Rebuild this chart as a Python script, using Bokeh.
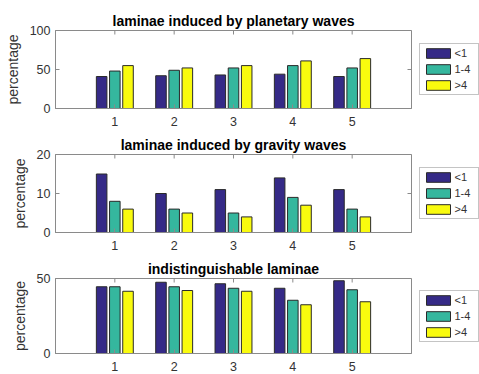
import math
from bokeh.plotting import figure
from bokeh.models import (Range1d, FixedTicker, Legend, LegendItem,
                          ColumnDataSource)
from bokeh.layouts import column, row
from bokeh.transform import dodge
from bokeh.embed import file_html
from bokeh.resources import INLINE

categories = [1, 2, 3, 4, 5]
series_names = ["<1", "1-4", ">4"]
colors = ["#352A87", "#35B79E", "#F9FB0E"]

planetary_lt1 = [41, 42, 43, 44, 41]
planetary_1to4 = [48, 49, 52, 55, 52]
planetary_gt4 = [55, 52, 55, 61, 64]

gravity_lt1 = [15, 10, 11, 14, 11]
gravity_1to4 = [8, 6, 5, 9, 6]
gravity_gt4 = [6, 5, 4, 7, 4]

indist_lt1 = [44.5, 47.5, 46.5, 43.5, 48.5]
indist_1to4 = [44.5, 44.5, 43.5, 35.5, 42.5]
indist_gt4 = [41.5, 42, 41.5, 32.5, 34.5]

titles = ["laminae induced by planetary waves",
          "laminae induced by gravity waves",
          "indistinguishable laminae"]
x_max = 6
y_max = [100, 20, 50]
y_ticks = [[0, 50, 100], [0, 10, 20], [0, 50]]
panel_data = [
    [planetary_lt1, planetary_1to4, planetary_gt4],
    [gravity_lt1, gravity_1to4, gravity_gt4],
    [indist_lt1, indist_1to4, indist_gt4],
]
# layout per panel: (height, top border, bottom border)
geom = [(131, 30, 23), (123, 23, 22), (119, 24, 18)]

FONT = "Liberation Sans"
AX = "#8a8a8a"
TXT = "#333333"
EDGE = "#2a2a2a"
BAR_W = 0.8 * 2.0 / 9
offs = [-2.0 / 9, 0.0, 2.0 / 9]

rows = []
for k in range(3):
    h, bt, bb = geom[k]
    p = figure(width=418, height=h, output_backend="svg", toolbar_location=None,
               x_range=Range1d(0, x_max), y_range=Range1d(0, y_max[k]),
               min_border_left=55, min_border_right=7,
               min_border_top=bt, min_border_bottom=bb)
    p.title.text = titles[k]
    p.title.align = "center"
    p.title.text_font = FONT
    p.title.text_font_size = "14px"
    p.title.text_font_style = "bold"
    p.title.text_color = "#000000"
    p.title.standoff = 3
    p.xgrid.visible = False
    p.ygrid.visible = False
    p.outline_line_color = AX
    p.outline_line_alpha = 1

    src = ColumnDataSource(dict(x=categories, s0=panel_data[k][0],
                                s1=panel_data[k][1], s2=panel_data[k][2]))
    for j in range(3):
        p.vbar(x=dodge("x", offs[j]), top="s%d" % j,
               width=BAR_W, bottom=0, source=src,
               fill_color=colors[j], line_color=EDGE, line_width=1)

    # box ticks on top and right edges (half of each dash is clipped by the frame)
    p.scatter(x=categories, y=[y_max[k]] * len(categories), marker="dash",
              angle=math.pi / 2, size=8, line_color=AX, line_width=1)
    p.scatter(x=[x_max] * len(y_ticks[k]), y=y_ticks[k], marker="dash",
              size=8, line_color=AX, line_width=1)

    for ax in (p.xaxis[0], p.yaxis[0]):
        ax.axis_line_color = AX
        ax.major_tick_line_color = AX
        ax.major_tick_in = 4
        ax.major_tick_out = 0
        ax.minor_tick_line_color = None
        ax.major_label_text_font = FONT
        ax.major_label_text_font_size = "12.5px"
        ax.major_label_text_color = TXT
    p.xaxis.ticker = FixedTicker(ticks=categories)
    p.xaxis.major_label_standoff = 8
    p.yaxis.ticker = FixedTicker(ticks=y_ticks[k])
    p.yaxis.major_label_standoff = 5
    p.yaxis.axis_label = "percentage"
    p.yaxis.axis_label_text_font = FONT
    p.yaxis.axis_label_text_font_size = "14px"
    p.yaxis.axis_label_text_font_style = "normal"
    p.yaxis.axis_label_text_color = TXT
    p.yaxis.axis_label_standoff = 6

    # legend panel: proxy bars lie outside this panel's visible range
    lf = figure(width=61, height=h, output_backend="svg", toolbar_location=None,
                x_range=Range1d(0, 0.5), y_range=Range1d(0, 1),
                min_border=0, min_border_left=0, min_border_right=0,
                min_border_top=0, min_border_bottom=0)
    lf.axis.visible = False
    lf.xgrid.visible = False
    lf.ygrid.visible = False
    lf.outline_line_color = None
    lrends = []
    for j in range(3):
        r = lf.vbar(x=categories[-1:], top=[0], width=0.1, fill_color=colors[j],
                    line_color=EDGE, line_width=1)
        lrends.append(r)
    legend = Legend(items=[LegendItem(label=series_names[j], renderers=[lrends[j]])
                           for j in range(3)],
                    location="center", glyph_width=30, glyph_height=12,
                    label_height=12, label_standoff=2,
                    label_text_font=FONT, label_text_font_size="11px",
                    label_text_color=TXT, padding=3, spacing=4, margin=0,
                    border_line_color=AX, background_fill_color="white")
    lf.add_layout(legend, "center")
    rows.append(row(p, lf, spacing=0))

layout = column(*rows, spacing=0)
open("out.html", "w").write(file_html(layout, INLINE))
